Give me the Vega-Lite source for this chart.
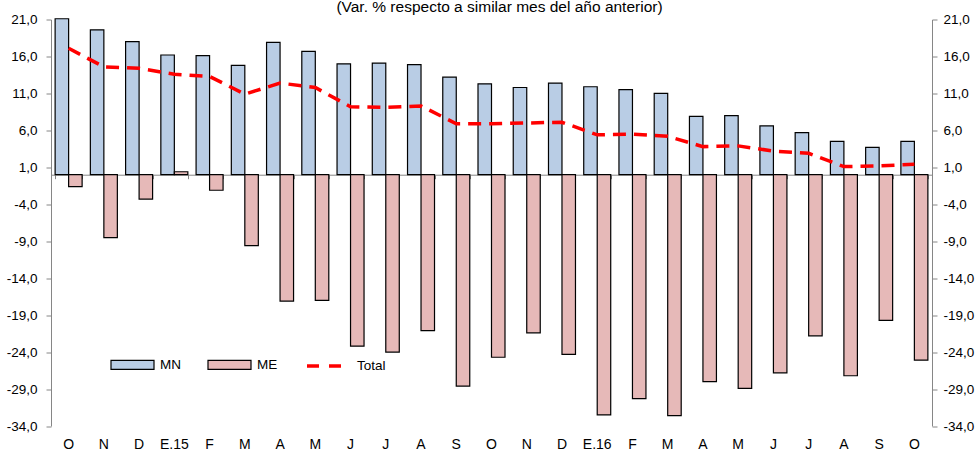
{
  "$schema": "https://vega.github.io/schema/vega-lite/v6.json",
  "width": 881,
  "height": 406.5,
  "autosize": {"type": "none"},
  "padding": {"left": 51, "top": 19.5, "right": 44, "bottom": 26},
  "background": "white",
  "config": {
    "view": {"stroke": null},
    "font": "Liberation Sans",
    "axis": {"grid": false, "labelColor": "#000", "labelFont": "Liberation Sans", "labelFontSize": 13.5, "domainColor": "#868686", "tickColor": "#868686", "titleFontSize": 0}
  },
  "title": {"text": "(Var. % respecto a similar mes del año anterior)", "fontSize": 15.5, "font": "Liberation Sans", "fontWeight": "normal", "color": "#000", "anchor": "middle", "frame": "group", "offset": 0, "dx": 8, "dy": 3},
  "data": {"values": [
    {"k": "O|1", "s": "MN", "v": 21.1}, {"k": "O|1", "s": "ME", "v": -1.6}, {"k": "O|1", "s": "Total", "v": 17.1},
    {"k": "N|2", "s": "MN", "v": 19.6}, {"k": "N|2", "s": "ME", "v": -8.5}, {"k": "N|2", "s": "Total", "v": 14.6},
    {"k": "D|3", "s": "MN", "v": 18.0}, {"k": "D|3", "s": "ME", "v": -3.3}, {"k": "D|3", "s": "Total", "v": 14.4},
    {"k": "E.15|4", "s": "MN", "v": 16.2}, {"k": "E.15|4", "s": "ME", "v": 0.4}, {"k": "E.15|4", "s": "Total", "v": 13.6},
    {"k": "F|5", "s": "MN", "v": 16.1}, {"k": "F|5", "s": "ME", "v": -2.1}, {"k": "F|5", "s": "Total", "v": 13.3},
    {"k": "M|6", "s": "MN", "v": 14.8}, {"k": "M|6", "s": "ME", "v": -9.6}, {"k": "M|6", "s": "Total", "v": 10.9},
    {"k": "A|7", "s": "MN", "v": 17.9}, {"k": "A|7", "s": "ME", "v": -17.1}, {"k": "A|7", "s": "Total", "v": 12.4},
    {"k": "M|8", "s": "MN", "v": 16.7}, {"k": "M|8", "s": "ME", "v": -17.0}, {"k": "M|8", "s": "Total", "v": 11.8},
    {"k": "J|9", "s": "MN", "v": 15.0}, {"k": "J|9", "s": "ME", "v": -23.2}, {"k": "J|9", "s": "Total", "v": 9.2},
    {"k": "J|10", "s": "MN", "v": 15.1}, {"k": "J|10", "s": "ME", "v": -24.0}, {"k": "J|10", "s": "Total", "v": 9.1},
    {"k": "A|11", "s": "MN", "v": 14.9}, {"k": "A|11", "s": "ME", "v": -21.1}, {"k": "A|11", "s": "Total", "v": 9.3},
    {"k": "S|12", "s": "MN", "v": 13.2}, {"k": "S|12", "s": "ME", "v": -28.6}, {"k": "S|12", "s": "Total", "v": 6.9},
    {"k": "O|13", "s": "MN", "v": 12.3}, {"k": "O|13", "s": "ME", "v": -24.7}, {"k": "O|13", "s": "Total", "v": 6.9},
    {"k": "N|14", "s": "MN", "v": 11.8}, {"k": "N|14", "s": "ME", "v": -21.4}, {"k": "N|14", "s": "Total", "v": 7.0},
    {"k": "D|15", "s": "MN", "v": 12.4}, {"k": "D|15", "s": "ME", "v": -24.3}, {"k": "D|15", "s": "Total", "v": 7.1},
    {"k": "E.16|16", "s": "MN", "v": 11.9}, {"k": "E.16|16", "s": "ME", "v": -32.5}, {"k": "E.16|16", "s": "Total", "v": 5.4},
    {"k": "F|17", "s": "MN", "v": 11.5}, {"k": "F|17", "s": "ME", "v": -30.3}, {"k": "F|17", "s": "Total", "v": 5.5},
    {"k": "M|18", "s": "MN", "v": 11.0}, {"k": "M|18", "s": "ME", "v": -32.6}, {"k": "M|18", "s": "Total", "v": 5.2},
    {"k": "A|19", "s": "MN", "v": 7.9}, {"k": "A|19", "s": "ME", "v": -28.0}, {"k": "A|19", "s": "Total", "v": 3.8},
    {"k": "M|20", "s": "MN", "v": 8.0}, {"k": "M|20", "s": "ME", "v": -28.9}, {"k": "M|20", "s": "Total", "v": 3.9},
    {"k": "J|21", "s": "MN", "v": 6.6}, {"k": "J|21", "s": "ME", "v": -26.8}, {"k": "J|21", "s": "Total", "v": 3.2},
    {"k": "J|22", "s": "MN", "v": 5.7}, {"k": "J|22", "s": "ME", "v": -21.8}, {"k": "J|22", "s": "Total", "v": 2.9},
    {"k": "A|23", "s": "MN", "v": 4.5}, {"k": "A|23", "s": "ME", "v": -27.2}, {"k": "A|23", "s": "Total", "v": 1.1},
    {"k": "S|24", "s": "MN", "v": 3.7}, {"k": "S|24", "s": "ME", "v": -19.7}, {"k": "S|24", "s": "Total", "v": 1.2},
    {"k": "O|25", "s": "MN", "v": 4.5}, {"k": "O|25", "s": "ME", "v": -25.1}, {"k": "O|25", "s": "Total", "v": 1.4}
  ]},
  "layer": [
    {
      "transform": [{"filter": "datum.s != 'Total'"}],
      "mark": {"type": "bar", "stroke": "#000", "strokeWidth": 1.2},
      "encoding": {
        "x": {"field": "k", "type": "nominal", "sort": null, "title": null,
              "scale": {"paddingInner": 0.234, "paddingOuter": 0.117},
              "axis": {"orient": "bottom", "domain": false, "ticks": false, "labelAngle": 0, "labelPadding": 11, "labelFontSize": 14, "labelExpr": "split(datum.label, '|')[0]"}},
        "xOffset": {"field": "s", "type": "nominal", "sort": ["MN", "ME"], "scale": {"paddingInner": 0, "paddingOuter": 0}},
        "y": {"field": "v", "type": "quantitative", "title": null,
              "scale": {"domain": [-34, 21], "nice": false, "zero": false},
              "axis": {"orient": "left", "values": [-34, -29, -24, -19, -14, -9, -4, 1, 6, 11, 16, 21], "tickSize": 5, "labelPadding": 9,
                       "labelExpr": "replace(replace(format(datum.value, '.1f'), '.', ','), '\u2212', '-')"}},
        "fill": {"field": "s", "type": "nominal",
                 "scale": {"domain": ["MN", "ME"], "range": ["#B9CDE5", "#E6B9B8"]},
                 "legend": {"title": null, "orient": "none", "direction": "horizontal", "columns": 2, "legendX": 59, "legendY": 322.5,
                            "padding": 0, "columnPadding": 24, "labelOffset": 5, "gridAlign": "each",
                            "labelFont": "Liberation Sans", "labelFontSize": 13.5, "labelColor": "#000",
                            "symbolSize": 1849, "symbolType": "M-1,-0.21H1V0.21H-1Z",
                            "symbolStrokeColor": "#000", "symbolStrokeWidth": 1.2, "symbolOpacity": 1}}
      }
    },
    {
      "transform": [{"filter": "datum.s == 'Total'"}],
      "mark": {"type": "line", "strokeDash": [13, 8], "strokeWidth": 3.5},
      "encoding": {
        "x": {"field": "k", "type": "nominal", "sort": null, "title": null,
              "axis": {"orient": "bottom", "offset": -251.3, "domain": true, "ticks": true, "tickBand": "extent", "tickSize": 4, "labels": false}},
        "y": {"field": "v", "type": "quantitative", "title": null,
              "axis": {"orient": "right", "values": [-34, -29, -24, -19, -14, -9, -4, 1, 6, 11, 16, 21], "tickSize": 5, "labelPadding": 6,
                       "labelExpr": "replace(replace(format(datum.value, '.1f'), '.', ','), '\u2212', '-')"}},
        "stroke": {"field": "s", "type": "nominal",
                   "scale": {"domain": ["Total"], "range": ["#FF0000"]},
                   "legend": {"title": null, "orient": "none", "legendX": 254, "legendY": 327.5,
                              "padding": 0, "labelOffset": 14,
                              "labelFont": "Liberation Sans", "labelFontSize": 13.5, "labelColor": "#000",
                              "symbolSize": 1156, "symbolType": "M-1,0H1", "symbolDash": [12, 10],
                              "symbolStrokeWidth": 3.5, "symbolOpacity": 1}}
      }
    }
  ],
  "resolve": {"axis": {"x": "independent", "y": "independent"}}
}
